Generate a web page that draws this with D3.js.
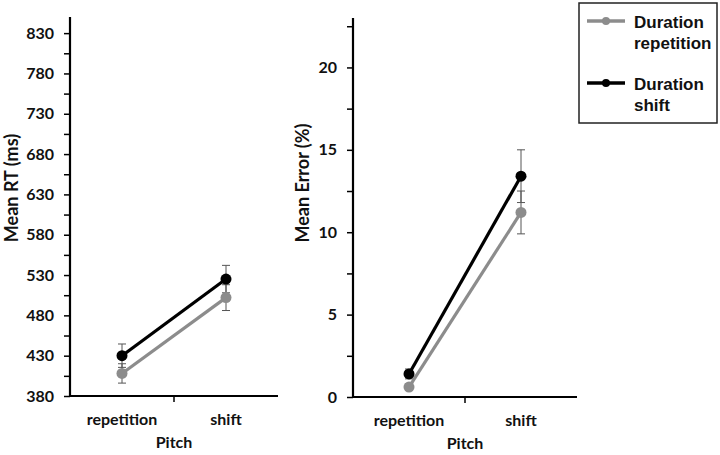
<!DOCTYPE html>
<html>
<head>
<meta charset="utf-8">
<script src="https://cdn.jsdelivr.net/npm/d3@7"></script>
<style>
  body { margin: 0; background: #fff; }
  svg { display: block; }
</style>
</head>
<body>
<div class="chart"></div>
<script>
const categories = ["repetition", "shift"];
const seriesNames = ["Duration repetition", "Duration shift"];

// mean RT (ms)
const rtRepetition = [408, 502];
const rtRepetitionErr = [12, 16];
const rtShift = [430, 525];
const rtShiftErr = [14.5, 17];

// mean error (%)
const errRepetition = [0.6, 11.2];
const errRepetitionErr = [0.2, 1.3];
const errShift = [1.4, 13.4];
const errShiftErr = [0.3, 1.6];

const rtTicks = d3.range(380, 831, 25);
const errTicks = d3.range(0, 22.6, 2.5);

const colors = ["#8c8c8c", "#000000"];
const tickFont = "Lato, 'Open Sans', sans-serif";

const svg = d3.select(".chart")
	.append("svg")
	.attr("width", 720)
	.attr("height", 455);

function drawPanel(opts) {
	const x = d3.scaleBand().domain(categories).range([opts.left, opts.right]);
	const y = d3.scaleLinear().domain(opts.domain).range([opts.bottom, opts.top]);
	const cx = (c) => x(c) + x.bandwidth() / 2;

	const g = svg.append("g");

	// y axis
	const yAxis = g.append("g")
		.attr("transform", `translate(${opts.left},0)`)
		.call(d3.axisLeft(y)
			.tickValues(opts.ticks)
			.tickSize(6)
			.tickPadding(10)
			.tickFormat((d) => (opts.isMajor(d) ? d : "")));
	yAxis.select(".domain").attr("stroke-width", 2.2).attr("d", `M0,${opts.bottom}V${opts.top}`);
	yAxis.selectAll(".tick line").attr("stroke-width", 1.5);
	yAxis.selectAll(".tick text")
		.style("font-family", tickFont)
		.style("font-weight", "bold")
		.style("font-size", "16px")
		.attr("fill", "#111");

	// x axis
	const xAxis = g.append("g").attr("transform", `translate(0,${opts.bottom})`);
	xAxis.append("line")
		.attr("x1", opts.left).attr("x2", opts.right)
		.attr("stroke", "#000").attr("stroke-width", 2.2);
	xAxis.append("line")
		.attr("x1", x("shift")).attr("x2", x("shift"))
		.attr("y1", 0).attr("y2", 6)
		.attr("stroke", "#000").attr("stroke-width", 1.5);
	xAxis.selectAll("text.cat")
		.data(categories)
		.join("text")
		.attr("class", "cat")
		.attr("x", cx)
		.attr("y", 29)
		.attr("text-anchor", "middle")
		.style("font-family", tickFont)
		.style("font-weight", "bold")
		.style("font-size", "16px")
		.attr("fill", "#111")
		.text((d) => d);
	xAxis.append("text")
		.attr("x", (opts.left + opts.right) / 2)
		.attr("y", 52)
		.attr("text-anchor", "middle")
		.style("font-family", tickFont)
		.style("font-weight", "bold")
		.style("font-size", "16px")
		.attr("fill", "#111")
		.text("Pitch");

	// y label
	g.append("text")
		.attr("transform", `translate(${opts.labelX},${opts.labelY}) rotate(-90)`)
		.attr("text-anchor", "middle")
		.style("font-family", tickFont)
		.style("font-weight", "bold")
		.style("font-size", "18px")
		.attr("fill", "#111")
		.text(opts.label);

	// error bars
	opts.series.forEach((s) => {
		const eb = g.append("g").attr("stroke", "#555").attr("stroke-width", 1);
		categories.forEach((c, i) => {
			const lo = y(s.values[i] - s.errors[i]);
			const hi = y(s.values[i] + s.errors[i]);
			eb.append("line").attr("x1", cx(c)).attr("x2", cx(c)).attr("y1", lo).attr("y2", hi);
			eb.append("line").attr("x1", cx(c) - 4).attr("x2", cx(c) + 4).attr("y1", lo).attr("y2", lo);
			eb.append("line").attr("x1", cx(c) - 4).attr("x2", cx(c) + 4).attr("y1", hi).attr("y2", hi);
		});
	});

	// lines and dots
	const line = d3.line().x((d) => cx(d.c)).y((d) => y(d.v));
	opts.series.forEach((s) => {
		const pts = categories.map((c, i) => ({ c, v: s.values[i] }));
		g.append("path")
			.datum(pts)
			.attr("d", line)
			.attr("fill", "none")
			.attr("stroke", s.color)
			.attr("stroke-width", 3.2);
		g.selectAll(null)
			.data(pts)
			.join("circle")
			.attr("cx", (d) => cx(d.c))
			.attr("cy", (d) => y(d.v))
			.attr("r", 5.5)
			.attr("fill", s.color);
	});
}

drawPanel({
	left: 70, right: 278, top: 17, bottom: 396,
	domain: [380, 850],
	ticks: rtTicks,
	isMajor: (d) => (d - 380) % 50 === 0,
	label: "Mean RT (ms)", labelX: 18, labelY: 188,
	series: [
		{ values: rtRepetition, errors: rtRepetitionErr, color: colors[0] },
		{ values: rtShift, errors: rtShiftErr, color: colors[1] },
	],
});

drawPanel({
	left: 353, right: 577, top: 18, bottom: 397,
	domain: [0, 23],
	ticks: errTicks,
	isMajor: (d) => d % 5 === 0,
	label: "Mean Error (%)", labelX: 309, labelY: 183,
	series: [
		{ values: errRepetition, errors: errRepetitionErr, color: colors[0] },
		{ values: errShift, errors: errShiftErr, color: colors[1] },
	],
});

// legend
const legend = svg.append("g").attr("transform", "translate(579,3)");
legend.append("rect")
	.attr("x", 0).attr("y", 0)
	.attr("width", 138).attr("height", 120)
	.attr("fill", "#fff")
	.attr("stroke", "#222")
	.attr("stroke-width", 1.5);

const legendItems = legend.selectAll("g.item")
	.data(seriesNames)
	.join("g")
	.attr("class", "item")
	.attr("transform", (d, i) => `translate(0,${18 + i * 62})`);

legendItems.append("line")
	.attr("x1", 8).attr("x2", 46)
	.attr("stroke", (d, i) => colors[i])
	.attr("stroke-width", 3.5);
legendItems.append("circle")
	.attr("cx", 27).attr("r", 4)
	.attr("fill", (d, i) => colors[i]);
legendItems.append("text")
	.attr("x", 55)
	.style("font-family", "'Liberation Sans', Arial, sans-serif")
	.style("font-weight", "bold")
	.style("font-size", "17px")
	.attr("fill", "#111")
	.selectAll("tspan")
	.data((d) => d.split(" "))
	.join("tspan")
	.attr("x", 55)
	.attr("y", (d, i) => 7 + i * 21)
	.text((d) => d);
</script>
</body>
</html>
